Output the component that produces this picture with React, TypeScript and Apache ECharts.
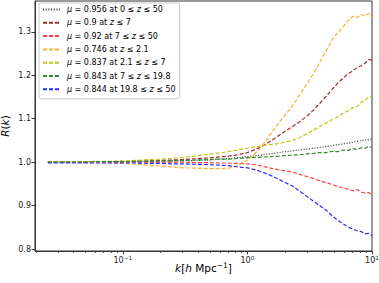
import React, { useEffect, useRef } from "react";
import * as echarts from "echarts";

const kValues = [0.025, 0.03, 0.04, 0.05, 0.06, 0.08, 0.1, 0.13, 0.16, 0.2, 0.25, 0.3, 0.4, 0.5, 0.6, 0.7, 0.8, 0.9, 1.0, 1.2, 1.4, 1.6, 1.8, 2.0, 2.3, 2.6, 3.0, 3.4, 3.8, 4.3, 4.8, 5.3, 5.8, 6.4, 7.0, 7.6, 8.2, 8.8, 9.4, 10];

const rBlack = [1.000, 1.000, 1.000, 1.000, 1.001, 1.001, 1.001, 1.002, 1.002, 1.002, 1.003, 1.003, 1.004, 1.005, 1.007, 1.008, 1.010, 1.011, 1.013, 1.015, 1.018, 1.020, 1.022, 1.024, 1.026, 1.028, 1.030, 1.032, 1.034, 1.036, 1.038, 1.040, 1.042, 1.044, 1.046, 1.048, 1.049, 1.051, 1.052, 1.054];
const rBrown = [1.000, 1.000, 1.000, 1.000, 1.001, 1.001, 1.001, 1.002, 1.003, 1.004, 1.005, 1.006, 1.008, 1.010, 1.012, 1.014, 1.016, 1.019, 1.022, 1.031, 1.041, 1.052, 1.062, 1.071, 1.082, 1.092, 1.106, 1.120, 1.135, 1.152, 1.168, 1.182, 1.192, 1.203, 1.210, 1.218, 1.222, 1.228, 1.236, 1.235];
const rRed = [1.000, 1.000, 1.000, 1.000, 1.000, 1.000, 1.000, 1.000, 1.000, 1.000, 1.000, 1.000, 0.999, 0.999, 0.998, 0.998, 0.997, 0.997, 0.996, 0.993, 0.989, 0.985, 0.982, 0.980, 0.977, 0.972, 0.967, 0.962, 0.957, 0.953, 0.948, 0.944, 0.941, 0.938, 0.934, 0.937, 0.931, 0.929, 0.930, 0.925];
const rOrange = [1.000, 1.000, 1.000, 0.999, 0.999, 0.998, 0.997, 0.995, 0.993, 0.991, 0.989, 0.987, 0.986, 0.985, 0.985, 0.986, 0.990, 0.997, 1.005, 1.025, 1.048, 1.072, 1.092, 1.108, 1.130, 1.153, 1.180, 1.205, 1.230, 1.258, 1.282, 1.298, 1.310, 1.325, 1.336, 1.333, 1.340, 1.337, 1.343, 1.333];
const rYellow = [1.000, 1.000, 1.001, 1.001, 1.002, 1.002, 1.003, 1.004, 1.006, 1.007, 1.009, 1.011, 1.015, 1.018, 1.021, 1.024, 1.027, 1.030, 1.032, 1.036, 1.039, 1.041, 1.043, 1.046, 1.050, 1.056, 1.065, 1.074, 1.082, 1.090, 1.098, 1.104, 1.112, 1.118, 1.125, 1.128, 1.138, 1.142, 1.150, 1.152];
const rGreen = [1.000, 1.000, 1.000, 1.000, 1.001, 1.001, 1.001, 1.002, 1.002, 1.003, 1.003, 1.004, 1.005, 1.006, 1.007, 1.007, 1.008, 1.009, 1.010, 1.011, 1.012, 1.013, 1.014, 1.015, 1.016, 1.017, 1.019, 1.020, 1.022, 1.022, 1.025, 1.024, 1.028, 1.027, 1.031, 1.029, 1.033, 1.032, 1.036, 1.034];
const rBlue = [0.998, 0.998, 0.998, 0.998, 0.998, 0.998, 0.998, 0.998, 0.997, 0.997, 0.996, 0.996, 0.995, 0.994, 0.993, 0.992, 0.990, 0.988, 0.987, 0.981, 0.974, 0.967, 0.960, 0.953, 0.945, 0.934, 0.921, 0.910, 0.900, 0.889, 0.876, 0.866, 0.859, 0.851, 0.846, 0.842, 0.840, 0.835, 0.836, 0.831];

const seriesNames = [
  "μ = 0.956 at 0 ≤ z ≤ 50",
  "μ = 0.9 at z ≤ 7",
  "μ = 0.92 at 7 ≤ z ≤ 50",
  "μ = 0.746 at z ≤ 2.1",
  "μ = 0.837 at 2.1 ≤ z ≤ 7",
  "μ = 0.843 at 7 ≤ z ≤ 19.8",
  "μ = 0.844 at 19.8 ≤ z ≤ 50",
];
const seriesValues = [rBlack, rBrown, rRed, rOrange, rYellow, rGreen, rBlue];
const seriesColors = ["#333333", "#a52a2a", "#ff3b3b", "#ffae2a", "#c4c41a", "#2e8b2e", "#2a2aff"];
const seriesDash: any[] = [[1, 1.7], [4, 2], [4, 2], [4, 2], [4, 2], [4, 2], [4, 2]];

const yTicks = [0.8, 0.9, 1.0, 1.1, 1.2, 1.3];
const xMajorTicks = [0.1, 1, 10];
const xMajorExponents = ["−1", "0", "1"];
const xMinorTicks = [0.02, 0.03, 0.04, 0.05, 0.06, 0.07, 0.08, 0.09, 0.2, 0.3, 0.4, 0.5, 0.6, 0.7, 0.8, 0.9, 2, 3, 4, 5, 6, 7, 8, 9];

const FONT = "DejaVu Sans";

export default function App() {
  const ref = useRef<HTMLDivElement>(null);
  useEffect(() => {
    if (!ref.current) return;
    const chart = echarts.init(ref.current, null, { renderer: "svg" });
    const xMin = 0.0197;
    const xMax = 10;
    const yMin = 0.7954;
    const yMax = 1.371;
    const richNames = seriesNames.map((n) => n.replace("μ", "{i|μ}").replace(" z ", " {i|z} "));
    chart.setOption({
      animation: false,
      backgroundColor: "#ffffff",
      textStyle: { fontFamily: FONT },
      grid: {
        left: 35,
        right: 7,
        top: 1,
        bottom: 32,
        show: true,
        borderColor: "#333",
        borderWidth: 1,
        backgroundColor: "transparent",
        containLabel: false,
        outerBoundsMode: "none",
      },
      legend: {
        orient: "vertical",
        left: 39,
        top: 3,
        padding: [1.5, 4, 4.5, 3],
        itemWidth: 17,
        itemHeight: 10,
        itemGap: 3.3,
        borderColor: "#cccccc",
        borderWidth: 1,
        borderRadius: 2,
        backgroundColor: "rgba(255,255,255,0.8)",
        itemStyle: { opacity: 0 },
        data: seriesNames,
        formatter: (name: string) => richNames[seriesNames.indexOf(name)],
        textStyle: {
          fontFamily: FONT,
          fontSize: 8,
          color: "#000",
          lineHeight: 10,
          padding: [0, 0, 0, 2],
          rich: {
            i: { fontFamily: FONT, fontSize: 8, fontStyle: "italic", color: "#000", lineHeight: 10 },
          },
        },
      },
      xAxis: [
        {
          type: "log",
          logBase: 10,
          min: xMin,
          max: xMax,
          name: "{i|k}[{i|h} Mpc{sup|−1}]",
          nameLocation: "middle",
          nameGap: 10,
          nameMoveOverlap: false,
          nameTextStyle: {
            fontFamily: FONT,
            fontSize: 10.5,
            color: "#000",
            lineHeight: 14,
            rich: {
              i: { fontFamily: FONT, fontSize: 10.5, fontStyle: "italic", color: "#000", lineHeight: 14 },
              sup: { fontFamily: FONT, fontSize: 7.5, color: "#000", verticalAlign: "top", lineHeight: 14 },
            },
          },
          axisLine: { show: true, lineStyle: { color: "#333", width: 1 } },
          axisTick: { show: true, length: 3.5, inside: false, customValues: xMajorTicks, lineStyle: { color: "#333" } },
          axisLabel: {
            show: true,
            customValues: xMajorTicks,
            formatter: (v: number) => {
              const idx = xMajorTicks.findIndex((t) => Math.abs(t - v) / t < 1e-6);
              return idx >= 0 ? "10{sup|" + xMajorExponents[idx] + "}" : "";
            },
            fontFamily: FONT,
            fontSize: 8,
            color: "#222",
            margin: 4,
            lineHeight: 10,
            rich: {
              sup: { fontFamily: FONT, fontSize: 5.8, color: "#222", verticalAlign: "top", lineHeight: 10 },
            },
          },
          splitLine: { show: false },
          minorTick: { show: false },
        },
        {
          type: "log",
          logBase: 10,
          min: xMin,
          max: xMax,
          position: "bottom",
          axisLine: { show: false },
          axisTick: { show: true, length: 2, inside: false, customValues: xMinorTicks, lineStyle: { color: "#333", width: 0.8 } },
          axisLabel: { show: false },
          splitLine: { show: false },
        },
      ],
      yAxis: {
        type: "value",
        min: yMin,
        max: yMax,
        name: "{i|R}({i|k})",
        nameLocation: "middle",
        nameRotate: 90,
        nameGap: 25,
        nameMoveOverlap: false,
        nameTextStyle: {
          fontFamily: FONT,
          fontSize: 10.5,
          color: "#000",
          rich: { i: { fontFamily: FONT, fontSize: 10.5, fontStyle: "italic", color: "#000" } },
        },
        axisLine: { show: true, lineStyle: { color: "#333", width: 1 } },
        axisTick: { show: true, length: 3.5, inside: false, customValues: yTicks, lineStyle: { color: "#333" } },
        axisLabel: {
          show: true,
          customValues: yTicks,
          formatter: (v: number) => v.toFixed(1),
          fontFamily: FONT,
          fontSize: 8,
          color: "#222",
          margin: 4,
        },
        splitLine: { show: false },
      },
      series: seriesNames.map((name, i) => ({
        name,
        type: "line",
        xAxisIndex: 0,
        yAxisIndex: 0,
        data: kValues.map((k, j) => [k, seriesValues[i][j]]),
        showSymbol: false,
        symbol: "none",
        smooth: false,
        clip: true,
        lineStyle: { color: seriesColors[i], width: 1.2, type: seriesDash[i] },
        itemStyle: { color: seriesColors[i] },
        z: 2 + i,
      })),
    });
    return () => chart.dispose();
  }, []);
  return (
    <div
      ref={ref}
      style={{ position: "fixed", left: 0, top: 0, width: 379, height: 283, background: "#fff" }}
    />
  );
}
